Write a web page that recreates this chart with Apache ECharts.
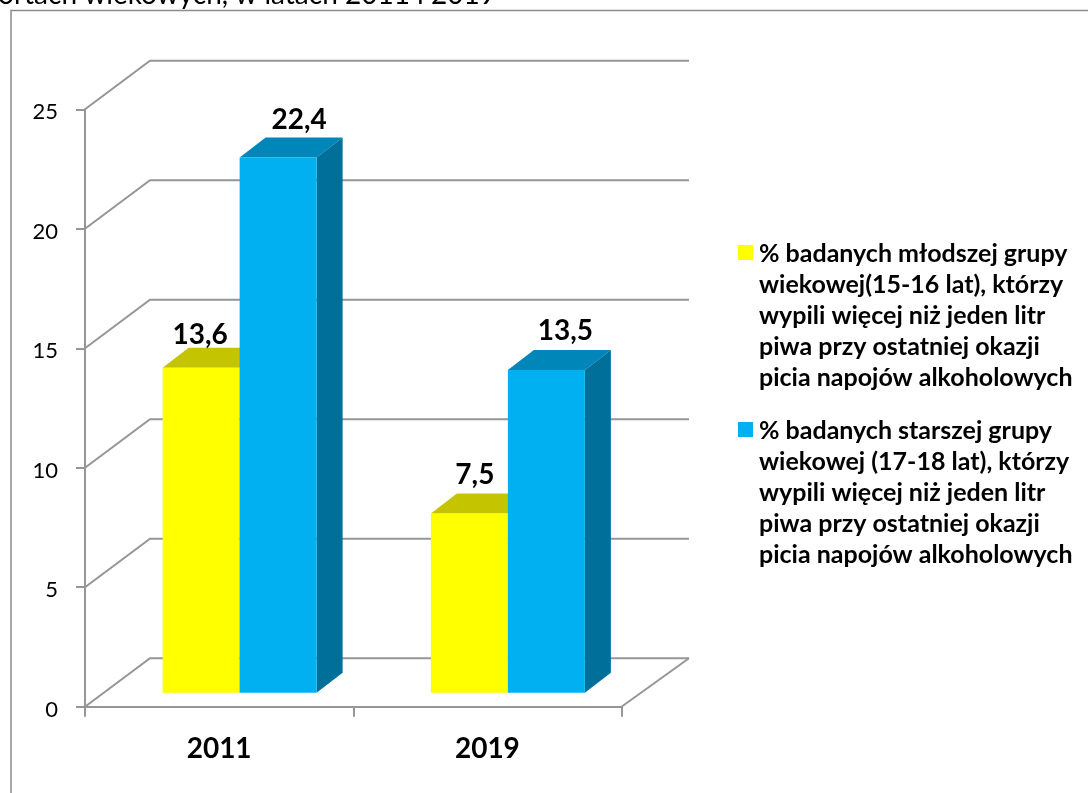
<!DOCTYPE html>
<html>
<head>
<meta charset="utf-8">
<style>
  html, body { margin: 0; padding: 0; background: #fff; overflow: hidden; }
  #chart { width: 1088px; height: 793px; }
</style>
</head>
<body>
<div id="chart"></div>
<script src="https://cdn.jsdelivr.net/npm/echarts@6/dist/echarts.min.js"></script>
<script>
const titleText = 'ortach wiekowych, w latach 2011 i 2019'
const years = ['2011', '2019']
const yTicks = [0, 5, 10, 15, 20, 25]
const youngName = '% badanych młodszej grupy\nwiekowej(15-16 lat), którzy\nwypili więcej niż jeden litr\npiwa przy ostatniej okazji\npicia napojów alkoholowych'
const olderName = '% badanych starszej grupy\nwiekowej (17-18 lat), którzy\nwypili więcej niż jeden litr\npiwa przy ostatniej okazji\npicia napojów alkoholowych'
const youngValues = [13.6, 7.5]
const olderValues = [22.4, 13.5]

// recznie przesuniete etykiety, jak w oryginale
const youngLabelShift = [[-1, -19], [5.5, -25]]
const olderLabelShift = [[21, -23], [19, -25]]

const fontName = 'Lato, "Open Sans", sans-serif'
const lineColor = '#969696'

const chart = echarts.init(document.getElementById('chart'))

// sciany wykresu 3D
const renderWall = (params, api) => {
  const box = params.coordSys
  const y = api.coord([0, api.value(0)])[1]
  const children = [{
    type: 'polyline',
    shape: { points: [[box.x, y], [box.x + 65, y - 48.5], [box.x + box.width + 67.5, y - 48.5]] },
    style: { fill: null, stroke: lineColor, lineWidth: 2 }
  }]
  if (api.value(0) === 0) {
    children.push({
      type: 'line',
      shape: { x1: box.x + box.width, y1: y, x2: box.x + box.width + 67.5, y2: y - 48.5 },
      style: { stroke: lineColor, lineWidth: 2 }
    })
  }
  return { type: 'group', children }
}

// slupek 3D: przod, gora, bok i etykieta
const barRenderer = (slot, front, top, side, shifts) => (params, api) => {
  const cat = api.value(0)
  const val = api.value(1)
  const bw = 77
  const dx = 26
  const dy = 20
  const center = api.coord([cat, 0])[0]
  const left = center - 56.5 + slot * bw
  const right = left + bw
  const bottom = api.coord([cat, 0])[1] - 14
  const ytop = api.coord([cat, val])[1] - 14
  return {
    type: 'group',
    children: [
      { type: 'polygon', shape: { points: [[left, ytop], [left + dx, ytop - dy], [right + dx, ytop - dy], [right, ytop]] }, style: { fill: top } },
      { type: 'polygon', shape: { points: [[right, ytop], [right + dx, ytop - dy], [right + dx, bottom - dy], [right, bottom]] }, style: { fill: side } },
      { type: 'rect', shape: { x: left, y: ytop, width: bw, height: bottom - ytop }, style: { fill: front } },
      {
        type: 'text',
        z2: 10,
        style: {
          x: left + bw / 2 + shifts[params.dataIndex][0],
          y: ytop + shifts[params.dataIndex][1],
          text: String(val).replace('.', ','),
          font: 'bold 28px ' + fontName,
          fill: '#000',
          align: 'center',
          verticalAlign: 'bottom'
        }
      }
    ]
  }
}

const legendGraphic = (name, color, y) => [
  { type: 'rect', left: 738, top: y, shape: { width: 15, height: 15 }, style: { fill: color } },
  {
    type: 'text',
    left: 759,
    top: y - 7,
    style: { text: name, font: 'bold 25px ' + fontName, fill: '#000', lineHeight: 31.2 }
  }
]

const option = {
  animation: false,
  backgroundColor: '#fff',
  title: {
    text: titleText,
    left: -2,
    top: -19,
    padding: 0,
    textStyle: { fontFamily: fontName, fontWeight: 'normal', fontSize: 28, color: '#000' }
  },
  graphic: [
    {
      type: 'polyline',
      shape: { points: [[11, 793], [11, 10.5], [1088, 10.5]] },
      style: { fill: null, stroke: '#8c8c8c', lineWidth: 1.5 }
    },
    ...legendGraphic(youngName, '#FFFF00', 245),
    ...legendGraphic(olderName, '#00B0F0', 422)
  ],
  grid: { left: 85, top: 109.3, width: 536.5, height: 597.4 },
  xAxis: {
    type: 'category',
    data: years,
    axisLine: { lineStyle: { color: lineColor, width: 2 } },
    axisTick: { show: true, length: 10, lineStyle: { color: lineColor, width: 2 } },
    axisLabel: { color: '#000', fontFamily: fontName, fontWeight: 'bold', fontSize: 28, margin: 28 }
  },
  yAxis: {
    type: 'value',
    min: 0,
    max: 25,
    interval: 5,
    axisLine: { show: true, lineStyle: { color: lineColor, width: 2 } },
    axisTick: { show: true, length: 9, lineStyle: { color: lineColor, width: 2 } },
    axisLabel: {
      margin: 27,
      formatter: '{num|{value}}',
      rich: { num: { color: '#000', fontFamily: fontName, fontSize: 22, padding: [6, 0, 0, 0] } }
    },
    splitLine: { show: false }
  },
  series: [
    {
      type: 'custom',
      name: 'sciany',
      coordinateSystem: 'cartesian2d',
      renderItem: renderWall,
      encode: { y: 0 },
      data: yTicks.map(v => [v]),
      silent: true,
      z: 1
    },
    {
      type: 'custom',
      name: youngName,
      coordinateSystem: 'cartesian2d',
      renderItem: barRenderer(0, '#FFFF00', '#C4C400', '#C4C400', youngLabelShift),
      encode: { x: 0, y: 1 },
      data: youngValues.map((v, i) => [i, v]),
      z: 2
    },
    {
      type: 'custom',
      name: olderName,
      coordinateSystem: 'cartesian2d',
      renderItem: barRenderer(1, '#00B0F0', '#0086B8', '#00709A', olderLabelShift),
      encode: { x: 0, y: 1 },
      data: olderValues.map((v, i) => [i, v]),
      z: 3
    }
  ]
}

chart.setOption(option)
</script>
</body>
</html>
